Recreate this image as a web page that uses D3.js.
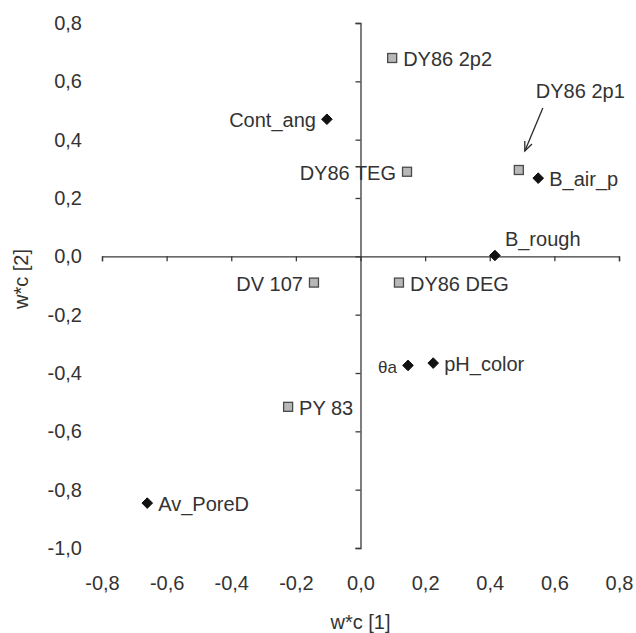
<!DOCTYPE html>
<html>
<head>
<meta charset="utf-8">
<script src="https://cdn.jsdelivr.net/npm/d3@7"></script>
<style>
  html, body { margin: 0; padding: 0; background: #fff; }
  svg { display: block; }
  text { font-family: "Liberation Sans", Arial, sans-serif; fill: #333; }
</style>
</head>
<body>
<svg id="chart" width="636" height="633"></svg>
<script>
// ---- data ----
const names  = ["DY86 2p2", "Cont_ang", "DY86 TEG", "DY86 2p1", "B_air_p", "B_rough",
                "DV 107", "DY86 DEG", "θa", "pH_color", "PY 83", "Av_PoreD"];
const xVals  = [0.098, -0.104, 0.144, 0.49, 0.55, 0.416, -0.144, 0.119, 0.147, 0.225, -0.224, -0.66];
const yVals  = [0.68, 0.47, 0.29, 0.296, 0.268, 0.003, -0.09, -0.09, -0.374, -0.366, -0.516, -0.846];
const kinds  = ["square", "diamond", "square", "square", "diamond", "diamond",
                "square", "square", "diamond", "diamond", "square", "diamond"];
const labelSide = ["right", "left", "left", "arrow", "right", "above",
                   "left", "right", "left", "right", "right", "right"];
const xTicks = [-0.8, -0.6, -0.4, -0.2, 0.0, 0.2, 0.4, 0.6, 0.8];
const yTicks = [-1.0, -0.8, -0.6, -0.4, -0.2, 0.0, 0.2, 0.4, 0.6, 0.8];
const xTitle = "w*c [1]";
const yTitle = "w*c [2]";

// ---- layout ----
const svg = d3.select("#chart");
const x = d3.scaleLinear().domain([-0.8, 0.8]).range([102, 619]);
const y = d3.scaleLinear().domain([-1.0, 0.8]).range([548, 23]);
const fmt = d => d3.format(".1f")(d).replace("−", "-").replace(".", ",");
const axisColor = "#3a3a3a";

// axis lines crossing at origin
const gx = svg.append("g").attr("transform", `translate(0,${y(0)})`)
  .call(d3.axisBottom(x).tickValues(xTicks).tickSize(5).tickSizeOuter(5).tickFormat(""));
const gy = svg.append("g").attr("transform", `translate(${x(0)},0)`)
  .call(d3.axisLeft(y).tickValues(yTicks).tickSize(5).tickSizeOuter(5).tickFormat(""));
[gx, gy].forEach(g => {
  g.selectAll("path, line").attr("stroke", axisColor).attr("stroke-width", 1.3);
});

// tick labels along the outside
const lx = svg.append("g").attr("transform", "translate(0,576)")
  .call(d3.axisBottom(x).tickValues(xTicks).tickSize(0).tickPadding(0).tickFormat(fmt));
lx.select(".domain").remove();
lx.selectAll("text").attr("font-size", 20).style("font-family", "Liberation Sans, Arial, sans-serif").attr("fill", "#333");

const ly = svg.append("g").attr("transform", "translate(82,0)")
  .call(d3.axisLeft(y).tickValues(yTicks).tickSize(0).tickPadding(0).tickFormat(fmt));
ly.select(".domain").remove();
ly.selectAll("text").attr("font-size", 20).style("font-family", "Liberation Sans, Arial, sans-serif").attr("fill", "#333");

// axis titles
svg.append("text").attr("x", x(0)).attr("y", 624).attr("text-anchor", "middle")
  .attr("dominant-baseline", "middle").attr("font-size", 20).text(xTitle);
svg.append("text").attr("transform", "translate(23,279) rotate(-90)")
  .attr("text-anchor", "middle").attr("dominant-baseline", "middle")
  .attr("font-size", 20).text(yTitle);

// points
const pts = names.map((n, i) => ({ name: n, x: xVals[i], y: yVals[i], kind: kinds[i], side: labelSide[i] }));
const g = svg.append("g");
pts.forEach(p => {
  const cx = x(p.x), cy = y(p.y);
  if (p.kind === "square") {
    g.append("rect").attr("x", cx - 4.5).attr("y", cy - 4.5).attr("width", 9).attr("height", 9)
      .attr("fill", "#b8b8b8").attr("stroke", "#4a4a4a").attr("stroke-width", 1.3);
  } else {
    g.append("path").attr("d", d3.symbol(d3.symbolDiamond2, 72)())
      .attr("transform", `translate(${cx},${cy})`)
      .attr("fill", "#111").attr("stroke", "#111").attr("stroke-width", 1);
  }
  const fs = p.name === "θa" ? 17 : 20;
  const t = g.append("text").attr("font-size", fs).attr("dy", "0.36em").text(p.name);
  if (p.side === "right") {
    t.attr("x", cx + 11).attr("y", cy + 1).attr("text-anchor", "start");
  } else if (p.side === "left") {
    t.attr("x", cx - 11).attr("y", cy + 1).attr("text-anchor", "end");
  } else if (p.side === "above") {
    t.attr("x", cx + 10).attr("y", cy - 17).attr("text-anchor", "start");
  } else if (p.side === "arrow") {
    t.attr("x", cx + 17).attr("y", cy - 79).attr("text-anchor", "start");
    const x1 = cx + 24, y1 = cy - 62, x2 = cx + 6, y2 = cy - 19;
    g.append("line").attr("x1", x1).attr("y1", y1).attr("x2", x2).attr("y2", y2)
      .attr("stroke", "#2a2a2a").attr("stroke-width", 1.3);
    const ang = Math.atan2(y2 - y1, x2 - x1);
    const L = 10, spread = 0.4;
    const a1 = [x2 - L * Math.cos(ang - spread), y2 - L * Math.sin(ang - spread)];
    const a2 = [x2 - L * Math.cos(ang + spread), y2 - L * Math.sin(ang + spread)];
    g.append("path").attr("d", `M${a1[0]},${a1[1]} L${x2},${y2} L${a2[0]},${a2[1]}`)
      .attr("fill", "none").attr("stroke", "#2a2a2a").attr("stroke-width", 1.3);
  }
});
</script>
</body>
</html>
